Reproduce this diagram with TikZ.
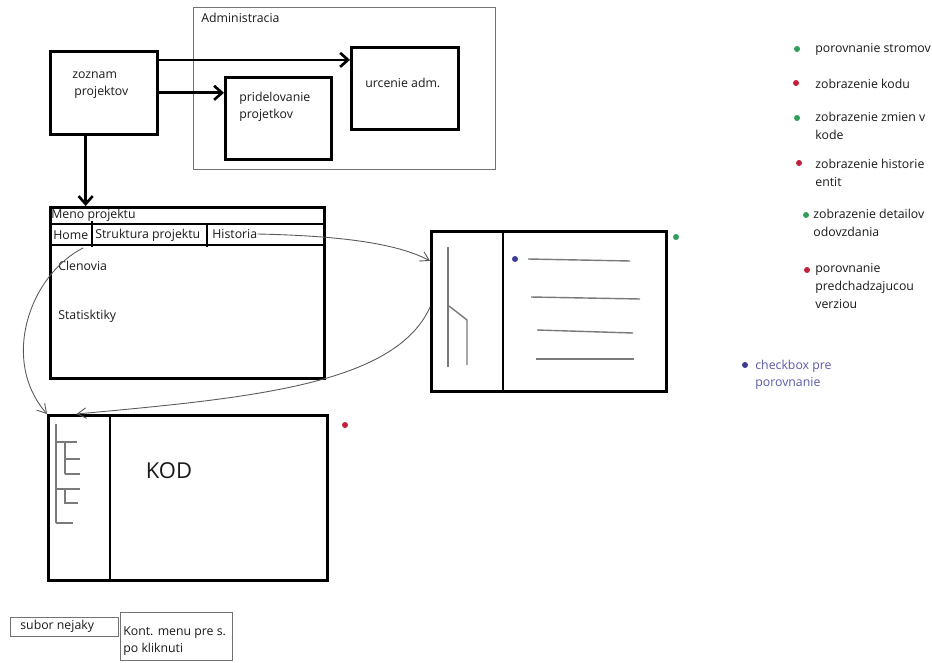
\documentclass[tikz,border=0pt]{standalone}
\usepackage{fontspec}
\setmainfont{Open Sans}
\usetikzlibrary{arrows.meta}

\definecolor{dotgreen}{HTML}{2E9E5A}
\definecolor{dotred}{HTML}{C21F3A}
\definecolor{dotblue}{HTML}{3C3C96}
\definecolor{sketchgray}{HTML}{7A7A7A}

\begin{document}
\begin{tikzpicture}[x=0.02cm, y=-0.02cm,
  every node/.style={font=\fontsize{7}{10}\selectfont, text=black!90},
  box/.style={draw, line width=1.5pt, inner sep=0, anchor=north west},
  thinbox/.style={draw=black!55, line width=0.6pt, inner sep=0, anchor=north west},
  lbl/.style={anchor=west, inner sep=0, align=left},
  arr/.style={line width=1.5pt, -{Straight Barb[length=4.5pt,width=8pt]}},
  pen/.style={draw=black!65, line width=0.5pt, -{Straight Barb[length=5pt,width=6pt]}},
  sketch/.style={sketchgray, line width=0.8pt}]
  \useasboundingbox (0,0) rectangle (932,662);

  % Administracia
  \node[thinbox, minimum width=6.04cm, minimum height=3.24cm] (admin) at (193,7) {};
  \node[lbl] (admintxt) at (201,18) {Administracia};
  \node[box, minimum width=2.14cm, minimum height=1.66cm] (zoznam) at (49,50) {};
  \node[lbl] (zoznamtxt) at (72,85) {zoznam\\ \,projektov};
  \node[box, minimum width=2.12cm, minimum height=1.64cm] (pridel) at (224,76) {};
  \node[lbl] (prideltxt) at (239,107) {pridelovanie\\projetkov};
  \node[box, minimum width=2.14cm, minimum height=1.64cm] (urcenie) at (350,46) {};
  \node[lbl] (urcenietxt) at (365,83) {urcenie adm.};

  \draw[arr] (zoznam.31) -- (urcenie.west |- zoznam.31);
  \draw[arr] (zoznam.east) -- (pridel.west |- zoznam.east);

  % stranka projektu
  \node[box, minimum width=5.48cm, minimum height=3.42cm] (proj) at (49,206) {};
  \draw[arr] (zoznam.247) -- (zoznam.247 |- proj.north);
  \draw[line width=1.5pt] (49,224) -- (323,224);
  \draw[line width=1.5pt] (49,245) -- (323,245);
  \draw[line width=1.5pt] (92,221) -- (92,247);
  \draw[line width=1.5pt] (207,224) -- (207,247);
  \node[lbl] (meno) at (51,215) {Meno projektu};
  \node[lbl] (home) at (53,235) {Home};
  \node[lbl] (struktura) at (95,235) {Struktura projektu};
  \node[lbl] (historia) at (212,234) {Historia};
  \node[lbl] (clenovia) at (58,266) {Clenovia};
  \node[lbl] (statistiky) at (58,316) {Statisktiky};
  \coordinate (homeout) at (83,248);

  % historia
  \node[box, minimum width=4.7cm, minimum height=3.2cm] (hist) at (430,230) {};
  \draw[line width=1.5pt] (503,230) -- (503,390);
  \draw[sketch] (448,247) -- (448,367);
  \draw[sketch] (449,306) -- (467,320) -- (467,365);
  \draw[sketch] (528,259) -- (630,261);
  \draw[sketch] (531,297) -- (640,299);
  \draw[sketch] (537,330) -- (633,333);
  \draw[sketch] (536,359) -- (634,359);
  \fill[dotblue] (515,259) circle (1.7pt);
  \fill[dotgreen] (676,237) circle (1.7pt);

  % kod
  \node[box, minimum width=5.58cm, minimum height=3.3cm] (code) at (47,414) {};
  \draw[line width=1.5pt] (110,414) -- (110,579);
  \draw[sketch] (56,424) -- (56,523);
  \draw[sketch] (56,442) -- (77,442);
  \draw[sketch] (65,442) -- (65,474);
  \draw[sketch] (65,459) -- (80,459);
  \draw[sketch] (65,474) -- (80,474);
  \draw[sketch] (56,489) -- (80,489);
  \draw[sketch] (65,489) -- (65,503) -- (78,503);
  \draw[sketch] (56,523) -- (73,523);
  \node[font=\fontsize{12.5}{14}\selectfont] (kod) at (169,471) {KOD};
  \fill[dotred] (345,425) circle (1.7pt);

  % prechody
  \draw[pen] (historia.east) .. controls (350,236) and (400,245) .. (hist.157);
  \draw[pen] (homeout) .. controls (30,275) and (0,360) .. (code.north west);
  \draw[pen] (hist.178) .. controls (395,385) and (250,398) .. (code.143);

  % subor
  \node[thinbox, minimum width=2.16cm, minimum height=0.38cm] (subor) at (10,617) {};
  \node[lbl] (subortxt) at (20,626) {subor nejaky};
  \node[thinbox, minimum width=2.24cm, minimum height=0.96cm] (kont) at (120,612) {};
  \node[lbl] (konttxt) at (123,641) {Kont. menu pre s.\\po kliknuti};

  % legenda
  \fill[dotgreen] (797,49) circle (1.7pt);
  \node[lbl] (leg1) at (815,49) {porovnanie stromov};
  \fill[dotred] (796,83) circle (1.7pt);
  \node[lbl] (leg2) at (815,84) {zobrazenie kodu};
  \fill[dotgreen] (797,118) circle (1.7pt);
  \node[lbl] (leg3) at (815,126) {zobrazenie zmien v\\kode};
  \fill[dotred] (799,163) circle (1.7pt);
  \node[lbl] (leg4) at (815,173) {zobrazenie historie\\entit};
  \fill[dotgreen] (806,215) circle (1.7pt);
  \node[lbl] (leg5) at (813,223) {zobrazenie detailov\\odovzdania};
  \fill[dotred] (807,270) circle (1.7pt);
  \node[lbl] (leg6) at (815,286) {porovnanie\\predchadzajucou\\verziou};
  \fill[dotblue] (745,365) circle (1.7pt);
  \node[lbl, text=dotblue!85] (leg7) at (755,375) {checkbox pre\\porovnanie};
\end{tikzpicture}
\end{document}
